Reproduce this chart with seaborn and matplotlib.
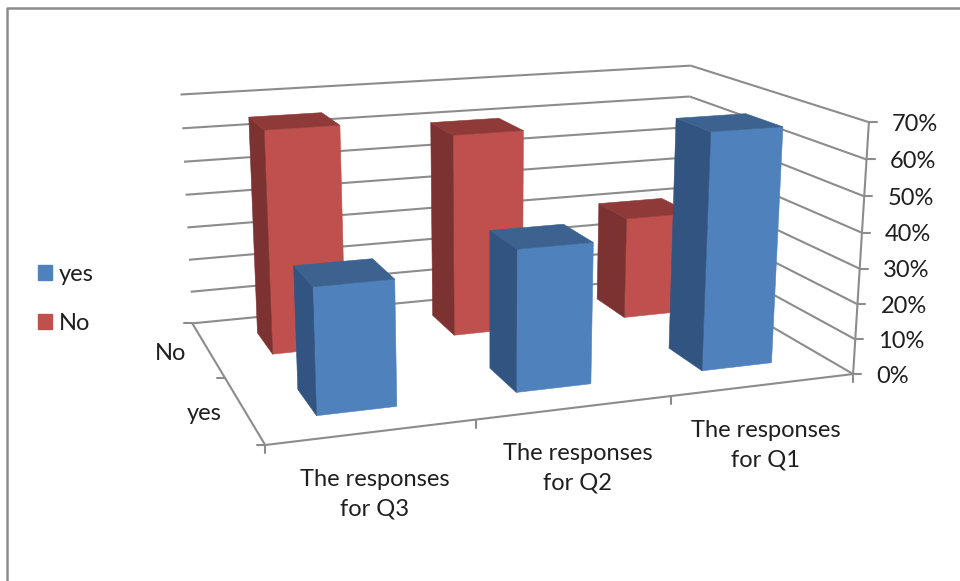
import numpy as np
import matplotlib
matplotlib.use("Agg")
import matplotlib.pyplot as plt
from matplotlib.patches import Patch
import seaborn as sns

# Chart content
questions = ["The responses\nfor Q3", "The responses\nfor Q2", "The responses\nfor Q1"]
series_names = ["yes", "No"]
yes_values = [34.5, 39.5, 67]
no_values = [65, 60, 31]
percent_ticks = [0, 10, 20, 30, 40, 50, 60, 70]

# Colours per series: front, side and top faces
face_colors = {
    "yes": ("#4F81BD", "#325480", "#3C6290"),
    "No": ("#C0504D", "#7B3230", "#8F3A38"),
}
GRID = "#8C8C8C"
TEXT = "#1F1F1F"

# Camera calibration: (category, depth, percent) -> figure pixel
camera_world = np.array([
    (0, 0, 0), (1, 0, 0), (2, 0, 0), (3, 0, 0),
    (3, 0, 10), (3, 0, 30), (3, 0, 40), (3, 0, 60), (3, 0, 70),
    (0, 2, 0), (0, 2, 40), (0, 2, 50), (0, 2, 60), (0, 2, 70),
    (3, 2, 60), (3, 2, 70), (3, 2, 0), (0, 1, 0),
], dtype=float)
camera_pixel = np.array([
    (267, 446), (472, 421), (673, 395), (854, 373),
    (856, 338), (860, 268), (862, 233), (866, 160), (868, 123),
    (193, 323), (186, 194), (184, 161), (182, 128), (180, 95),
    (691, 96), (691, 66), (682, 277), (225, 378),
], dtype=float)


def fit_camera(world, pixel):
    rows = []
    for (x, y, z), (u, v) in zip(world, pixel):
        rows.append([x, y, z, 1, 0, 0, 0, 0, -u * x, -u * y, -u * z, -u])
        rows.append([0, 0, 0, 0, x, y, z, 1, -v * x, -v * y, -v * z, -v])
    return np.linalg.svd(np.array(rows))[2][-1].reshape(3, 4)


camera = fit_camera(camera_world, camera_pixel)


def project(x, y, z):
    u, v, w = camera @ np.array([x, y, z, 1.0])
    return u / w, v / w


sns.set_theme(style="white")
plt.rcParams["font.family"] = ["Lato", "DejaVu Sans"]

fig = plt.figure(figsize=(9.6, 5.81), dpi=100)
ax = fig.add_axes([0, 0, 1, 1])
ax.set_xlim(0, 960)
ax.set_ylim(581, 0)
ax.axis("off")


def line3d(a, b, **kw):
    pa, pb = project(*a), project(*b)
    ax.plot([pa[0], pb[0]], [pa[1], pb[1]], color=GRID, lw=1.5,
            solid_capstyle="butt", **kw)


# Image frame along the top and left
ax.plot([960, 7, 7], [8, 8, 581], color=GRID, lw=1.8)

# Walls: gridlines run along the back wall and the right wall
for p in percent_ticks:
    line3d((0, 2, p), (3, 2, p))
    line3d((3, 2, p), (3, 0, p))

# Floor edges and the value axis
line3d((0, 2, 0), (0, 0, 0))
line3d((0, 0, 0), (3, 0, 0))
line3d((3, 0, 0), (3, 0, 70))

# Tick marks
for p in percent_ticks:
    u, v = project(3, 0, p)
    ax.plot([u, u + 8], [v, v], color=GRID, lw=1.5)
    ax.text(u + 23, v + 2, f"{p}%", fontsize=17, color=TEXT, ha="left", va="center")
for c in range(4):
    u, v = project(c, 0, 0)
    ax.plot([u, u], [v, v + 8], color=GRID, lw=1.5)
for d in range(3):
    u, v = project(0, d, 0)
    ax.plot([u - 8, u], [v, v], color=GRID, lw=1.5)

# Category and depth labels
for c, label in enumerate(questions):
    u, v = project(c + 0.5, 0, 0)
    ax.text(u + 2, v + 62 - c, label, fontsize=17, color=TEXT, ha="center", va="center",
            linespacing=1.5)
for d, name in enumerate(series_names):
    u, v = project(0, d + 0.5, 0)
    ax.text(u - 22, v + 4, name, fontsize=17, color=TEXT, ha="right", va="center")


def draw_bar(cat, depth, value, colors):
    x0, x1 = cat + 0.307, cat + 0.7
    y0, y1 = depth + 0.3, depth + 0.7
    front, side, top = colors
    faces = [
        ([(x0, y0, 0), (x1, y0, 0), (x1, y0, value), (x0, y0, value)], front),
        ([(x0, y1, 0), (x0, y0, 0), (x0, y0, value), (x0, y1, value)], side),
        ([(x0, y0, value), (x1, y0, value), (x1, y1, value), (x0, y1, value)], top),
    ]
    for corners, color in faces:
        pts = np.array([project(*c) for c in corners])
        ax.fill(pts[:, 0], pts[:, 1], color=color, lw=0.4, zorder=3 + (1 - depth))


# Back row first so the front row overlaps it
for depth, name, values in [(1, "No", no_values), (0, "yes", yes_values)]:
    for cat, val in enumerate(values):
        draw_bar(cat, depth, val, face_colors[name])

handles = [Patch(color=face_colors[n][0], label=n) for n in series_names]
ax.legend(handles=handles, loc="center left", bbox_to_anchor=(26 / 960, 1 - 299 / 581),
          frameon=False, fontsize=17, handlelength=0.6, handleheight=0.6,
          handletextpad=0.3, labelspacing=1.2, labelcolor=TEXT, borderpad=0)

fig.savefig("out.png", dpi=100)
